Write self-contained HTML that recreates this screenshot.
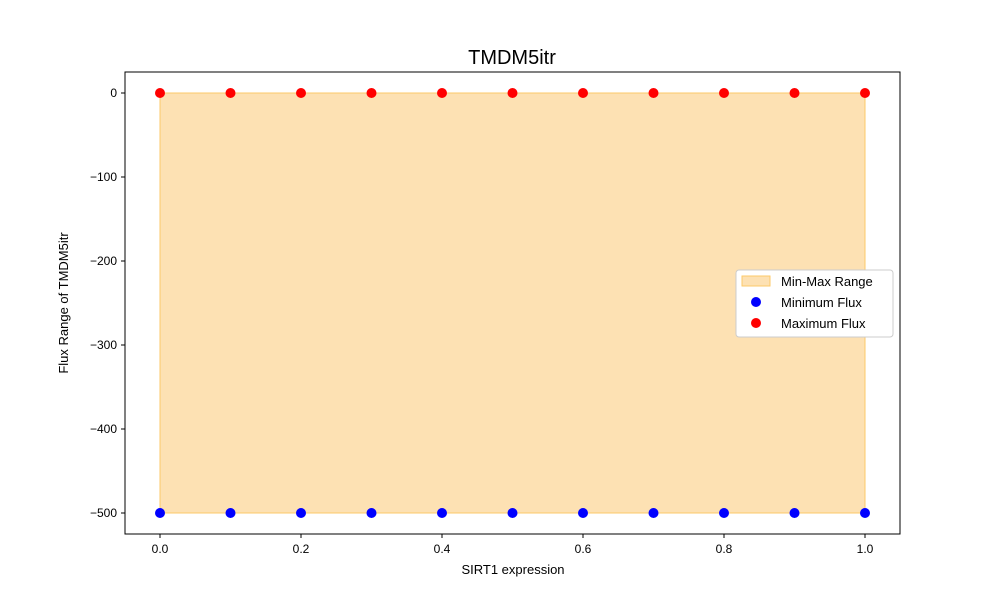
<!DOCTYPE html>
<html><head><meta charset="utf-8"><style>body{margin:0;background:#fff}svg{font-family:"Liberation Sans","DejaVu Sans",sans-serif}</style></head>
<body>
<svg id="chart" width="1000" height="600" viewBox="0 0 1000 600">
<rect width="1000" height="600" fill="#fff"/>
<text x="512" y="64" font-size="20" text-anchor="middle">TMDM5itr</text>
<g id="plot"></g>
<rect x="125" y="72" width="775" height="462" fill="none" stroke="#000" stroke-width="1"/>
<text x="513" y="574" font-size="13" text-anchor="middle">SIRT1 expression</text>
<text transform="translate(68,303) rotate(-90)" font-size="13" text-anchor="middle">Flux Range of TMDM5itr</text>
<g>
<rect x="736" y="270" width="157" height="67" fill="#fff" stroke="#ccc" rx="3"/>
<rect x="742" y="276" width="28" height="10" fill="#fdd9a0" fill-opacity="0.8" stroke="#fcc96a"/>
<text x="781" y="286" font-size="13">Min-Max Range</text>
<circle cx="756" cy="302" r="5" fill="#0000ff"/>
<text x="781" y="307" font-size="13">Minimum Flux</text>
<circle cx="756" cy="323" r="5" fill="#ff0000"/>
<text x="781" y="328" font-size="13">Maximum Flux</text>
</g>
</svg>
<script>
const xValues=[0,0.1,0.2,0.3,0.4,0.5,0.6,0.7,0.8,0.9,1.0];
const minFlux=[-500,-500,-500,-500,-500,-500,-500,-500,-500,-500,-500];
const maxFlux=[0,0,0,0,0,0,0,0,0,0,0];
const xTicks=[0,0.2,0.4,0.6,0.8,1.0];
const yTicks=[0,-100,-200,-300,-400,-500];
const sx=v=>160+v*705;
const sy=v=>93+(-v)*420/500;
const NS="http://www.w3.org/2000/svg";
const g=document.getElementById('plot');
function mk(t,a){const e=document.createElementNS(NS,t);for(const k in a)e.setAttribute(k,a[k]);g.appendChild(e);return e;}
let pts=xValues.map((x,i)=>sx(x)+','+sy(maxFlux[i]));
pts=pts.concat(xValues.map((x,i)=>sx(x)+','+sy(minFlux[i])).reverse());
const area=mk('polygon',{points:pts.join(' '),fill:'#fdd9a0','fill-opacity':0.8,stroke:'#fcc96a'});


xValues.forEach((x,i)=>{
 const a=mk('circle',{cx:sx(x),cy:sy(minFlux[i]),r:5,fill:'#0000ff'});
 
 
 const b=mk('circle',{cx:sx(x),cy:sy(maxFlux[i]),r:5,fill:'#ff0000'});
 
 
});
xTicks.forEach(t=>{
 const l=mk('line',{x1:sx(t),x2:sx(t),y1:534,y2:538,stroke:'#000'});
 
 
 const tx=mk('text',{x:sx(t),y:553,'font-size':12,'text-anchor':'middle'});
 tx.textContent=t.toFixed(1);
 
 
});
yTicks.forEach(t=>{
 const l=mk('line',{x1:121,x2:125,y1:sy(t),y2:sy(t),stroke:'#000'});
 
 
 const tx=mk('text',{x:117,y:sy(t)+4,'font-size':12,'text-anchor':'end'});
 tx.textContent=t<0?'\u2212'+(-t):String(t);
 
 
});
</script>
</body></html>
